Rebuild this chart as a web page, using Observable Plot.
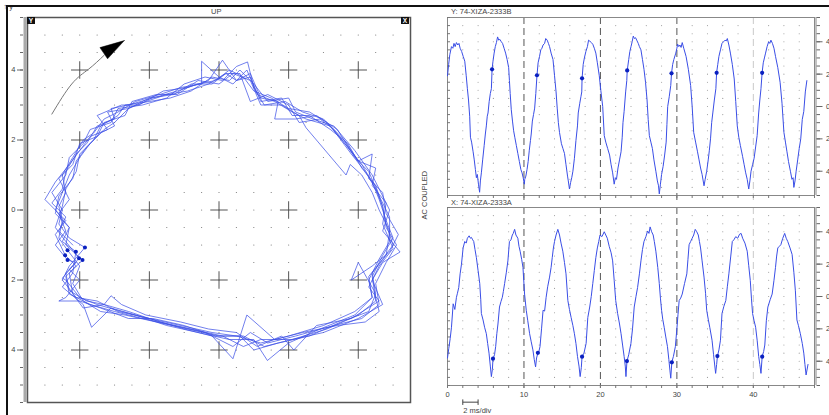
<!DOCTYPE html>
<html><head><meta charset="utf-8">
<script src="https://cdn.jsdelivr.net/npm/d3@7"></script>
<script src="https://cdn.jsdelivr.net/npm/@observablehq/plot@0.6"></script>
<style>
html,body{margin:0;padding:0;background:#fff;}
#root{position:relative;width:829px;height:415px;overflow:hidden;font-family:"Liberation Sans",Arial,sans-serif;color:#444;}
.abs{position:absolute;}
.lbl{position:absolute;font-size:7.5px;line-height:9px;white-space:nowrap;color:#444;}
.box{position:absolute;width:8px;height:7px;background:#111;color:#fff;font-size:6.5px;line-height:7px;text-align:center;font-weight:bold;}
</style></head>
<body><div id="root"></div>
<script>
// ---------------- DATA ----------------
// Orbit (filtered X vs Y), clockwise [x, y]
const orbitPath = [
[-4.2,-1.0],[-4.6,-0.6],[-4.4,-0.2],[-4.8,0.2],[-4.5,0.6],[-4.4,1.1],[-4.1,1.6],[-3.8,1.9],[-3.5,2.4],[-3.0,2.6],[-3.1,2.9],[-2.6,3.0],[-1.9,3.2],[-1.2,3.4],[-0.6,3.6],[-0.1,3.7],[0.3,4.0],[0.7,3.8],[1.0,3.4],[1.5,3.2],[2.0,2.9],[2.6,2.8],[3.1,2.5],[3.7,1.8],[4.1,1.3],[4.4,0.8],[4.6,0.3],[4.8,-0.3],[5.0,-0.8],[4.7,-1.3],[4.4,-1.9],[4.5,-2.6],[4.0,-3.0],[3.1,-3.4],[2.1,-3.7],[1.3,-3.9],[0.7,-3.6],[0.0,-3.6],[-0.9,-3.4],[-1.8,-3.2],[-2.7,-3.0],[-3.4,-2.9],[-3.9,-2.6],[-4.2,-2.1],[-4.0,-1.6],
[-4.35,-1.15],[-4.6,-0.8],[-4.5,-0.3],[-4.6,0.1],[-4.4,0.5],[-4.5,1.0],[-4.2,1.5],[-3.9,2.0],[-3.6,2.2],[-3.3,2.6],[-2.9,2.8],[-2.4,3.1],[-1.7,3.3],[-1.1,3.5],[-0.5,3.6],[-0.5,4.25],[0.0,3.8],[0.4,3.6],[0.8,4.0],[1.1,3.3],[1.6,3.1],[2.1,2.8],[2.5,2.6],[3.2,2.4],[3.8,1.6],[4.2,1.1],[4.5,0.6],[4.7,0.1],[4.8,-0.5],[5.1,-1.0],[4.8,-1.5],[4.5,-2.1],[4.6,-2.7],[4.1,-3.1],[3.3,-3.3],[2.2,-3.6],[1.4,-3.8],[0.9,-3.5],[0.4,-3.9],[-0.4,-3.5],[-1.3,-3.3],[-2.2,-3.1],[-3.0,-2.9],[-3.7,-2.7],[-4.3,-2.4],[-4.4,-1.9],[-4.1,-1.6],
[-4.42,-1.29],[-4.7,-0.7],[-4.4,-0.3],[-5.0,0.3],[-4.7,0.8],[-4.3,1.3],[-4.0,1.7],[-3.7,2.1],[-3.2,2.3],[-3.5,2.7],[-2.8,3.0],[-2.3,3.0],[-1.6,3.4],[-0.9,3.5],[-0.3,3.7],[0.1,4.28],[0.5,3.7],[0.9,3.9],[1.2,3.2],[1.7,3.1],[1.6,2.6],[2.2,2.6],[2.8,2.7],[3.4,2.3],[3.9,1.5],[4.3,1.1],[4.6,0.4],[4.9,-0.2],[4.9,-0.9],[4.6,-1.4],[4.3,-2.0],[4.4,-2.5],[3.9,-3.0],[2.9,-3.4],[2.0,-3.8],[1.39,-4.3],[1.0,-3.7],[0.3,-3.7],[-0.6,-3.5],[-1.5,-3.3],[-2.4,-3.0],[-3.1,-2.8],[-3.66,-3.35],[-3.9,-2.7],[-4.5,-2.2],[-4.2,-1.8],
[-4.11,-1.19],[-4.5,-0.9],[-4.3,-0.5],[-4.7,-0.1],[-4.6,0.4],[-4.2,0.9],[-4.1,1.4],[-3.8,1.8],[-3.4,2.2],[-3.0,2.4],[-3.2,2.8],[-2.6,2.9],[-2.0,3.2],[-1.3,3.3],[-0.8,3.6],[-0.2,3.6],[0.2,3.9],[0.6,3.9],[0.9,3.1],[1.4,3.3],[2.0,3.0],[2.3,2.5],[2.9,2.6],[3.3,2.3],[4.0,1.4],[4.4,1.6],[4.3,0.9],[4.7,0.5],[4.8,-0.1],[5.15,-0.7],[4.9,-1.2],[4.4,-1.6],[3.8,-2.0],[4.0,-1.5],[4.45,-2.3],[4.6,-2.9],[4.2,-3.2],[3.4,-3.3],[2.4,-3.5],[1.6,-3.7],[0.8,-3.0],[0.4,-4.25],[-0.2,-3.6],[-1.0,-3.4],[-2.0,-3.1],[-2.9,-2.9],[-3.5,-2.6],[-4.1,-2.5],[-4.5,-2.0],[-4.3,-1.6],
[-3.85,-1.07],[-4.3,-0.8],[-4.6,-0.4],[-4.5,0.0],[-4.8,0.5],[-4.4,1.0],[-4.3,1.5],[-3.9,1.9],[-3.7,2.3],[-3.1,2.5],[-2.9,2.9],[-2.2,3.0],[-1.5,3.2],[-1.0,3.6],[-0.4,3.8],[0.1,3.7],[0.5,4.1],[0.82,4.23],[1.0,3.5],[1.3,3.0],[1.9,3.1],[2.4,2.8],[3.0,2.6],[3.6,2.0],[4.0,1.4],[4.5,1.2],[4.4,0.7],[4.8,0.2],[4.7,-0.4],[5.0,-1.1],[4.6,-1.6],[4.3,-2.2],[4.6,-2.6],[3.8,-3.1],[2.8,-3.3],[2.15,-4.0],[1.8,-3.6],[1.1,-3.9],[0.5,-3.5],[-0.3,-3.4],[-1.1,-3.2],[-2.1,-3.0],[-2.8,-2.7],[-3.1,-2.45],[-3.3,-2.7],[-3.8,-2.6],[-4.3,-2.3],[-4.4,-1.8],[-4.1,-1.5],
[-4.35,-1.43],[-4.7,-1.0],[-4.4,-0.6],[-4.6,-0.1],[-4.3,0.3],[-4.6,0.9],[-4.2,1.3],[-4.0,1.9],[-3.5,2.1],[-3.3,2.5],[-2.7,2.7],[-2.5,3.1],[-1.8,3.3],[-1.2,3.3],[-0.6,3.7],[0.0,3.6],[0.4,3.9],[0.9,3.7],[1.2,3.0],[1.8,3.0],[2.3,2.7],[2.5,2.35],[3.65,1.0],[3.77,1.3],[4.1,1.0],[4.4,0.5],[4.6,0.0],[4.9,-0.6],[4.8,-1.3],[4.4,-1.8],[4.5,-2.4],[4.3,-2.9],[3.5,-3.2],[2.6,-3.6],[1.7,-3.8],[1.0,-4.0],[0.6,-3.6],[-0.1,-3.6],[-1.0,-3.3],[-1.9,-3.1],[-2.6,-3.1],[-3.4,-2.8],[-4.0,-2.6],[-4.6,-2.6],[-4.4,-2.5],[-4.0,-2.0],[-4.3,-1.7],
[-4.02,-1.38],[-4.4,-0.9],[-4.7,-0.5],[-4.5,0.1],[-4.4,0.6],[-4.1,1.1],[-4.0,1.6],[-3.6,2.0],[-3.4,2.4],[-2.9,2.7],[-2.7,3.0],[-2.0,3.1],[-1.4,3.2],[-0.8,3.4],[-0.2,3.8],[0.3,3.7],[0.6,4.0],[1.0,3.6],[1.4,3.1],[2.0,3.2],[2.2,2.8],[2.7,2.6],[3.3,2.4],[3.9,1.7],[4.4,1.0],[4.6,0.6],[4.9,0.0],[4.7,-0.6],[5.2,-1.2],[4.7,-1.5],[4.4,-2.0],[4.7,-2.7],[4.0,-3.1],[3.0,-3.5],[2.1,-3.7],[1.2,-3.7],[0.7,-3.9],[0.1,-3.6],[-0.8,-3.4],[-1.7,-3.2],[-2.6,-2.9],[-3.3,-2.7],[-3.9,-2.8],[-4.2,-2.4],[-4.3,-1.8],
[-3.92,-1.43],[-4.4,-1.0],[-4.3,-0.5],[-4.7,0.0],[-4.5,0.5],[-4.3,1.0],[-4.0,1.5],[-3.7,1.9],[-3.3,2.3],[-3.0,2.5],[-2.6,2.9],[-2.1,3.1],[-1.5,3.3],[-0.9,3.4],[-0.3,3.6],[0.2,3.9],[0.5,3.7],[0.9,3.8],[1.2,3.1],[1.8,3.2],[2.1,2.7],[2.6,2.7],[3.2,2.3],[3.7,1.9],[4.1,1.2],[4.5,0.7],[4.7,0.1],[4.8,-0.4],[5.0,-1.0],[4.7,-1.4],[4.3,-1.9],[4.4,-2.5],[3.9,-2.9],[3.0,-3.3],[2.0,-3.6],[1.2,-3.8],[0.5,-3.6],[-0.2,-3.5],[-1.1,-3.3],[-2.0,-3.1],[-2.8,-2.9],[-3.5,-2.7],[-4.0,-2.5],[-4.4,-2.0],[-4.5,-1.95],[-4.2,-1.6]
];
// Keyphasor marks on the orbit [x, y]
const orbitKeyphasors = [[-4.35,-1.15],[-4.42,-1.29],[-4.11,-1.19],[-3.85,-1.07],[-4.35,-1.43],[-4.02,-1.38],[-3.92,-1.43]];
// Rotation arrow (annotation, in orbit units)
const arrowCurve = [[-4.8,2.74],[-4.23,3.6],[-3.75,4.02],[-3.3,4.42]];
const arrowHead = [[-2.72,4.84],[-3.42,4.64],[-3.2,4.32],[-2.72,4.84]];

// Y probe timebase [ms, value]
const waveY = [
[0,1.9],[0.15,2.6],[0.3,3.2],[0.52,3.7],[0.7,3.6],[0.85,3.9],[1.0,3.7],[1.17,3.95],[1.35,3.8],[1.5,3.9],[1.65,3.6],[1.85,3.4],[2.05,3.1],[2.26,2.8],[2.45,1.9],[2.6,1.1],[2.75,0.4],[2.9,-0.6],[3.0,-1.9],[3.15,-2.2],[3.35,-2.8],[3.5,-3.3],[3.65,-3.9],[3.78,-4.4],[3.9,-4.2],[4.05,-4.8],[4.2,-5.3],[4.3,-4.6],[4.43,-4.1],[4.6,-3.3],[4.8,-2.4],[4.95,-1.7],[5.08,-1.2],[5.2,-0.6],[5.3,-0.4],[5.45,0.3],[5.6,0.8],[5.74,1.1],[5.83,2.3],[5.95,2.8],[6.1,3.3],[6.25,3.7],[6.4,3.95],[6.55,4.3],[6.7,4.1],[6.85,4.15],[7.04,4.0],[7.2,3.9],[7.4,3.6],[7.6,3.3],[7.8,2.9],[8.0,2.4],[8.1,1.6],[8.2,0.8],[8.34,-0.2],[8.5,-0.9],[8.65,-1.5],[8.8,-1.9],[9.0,-2.4],[9.2,-2.9],[9.4,-3.4],[9.6,-3.9],[9.75,-4.1],[9.9,-4.4],[10.05,-4.8],[10.1,-4.5],[10.25,-4.3],[10.4,-3.9],[10.55,-3.4],[10.7,-2.7],[10.85,-2.1],[10.95,-1.7],[11.1,-0.9],[11.25,-0.5],[11.4,-0.1],[11.55,0.8],[11.7,1.9],[11.85,2.7],[12.04,3.1],[12.2,3.5],[12.35,3.6],[12.5,3.8],[12.7,3.9],[12.85,4.2],[13.04,4.1],[13.2,3.9],[13.35,3.7],[13.55,3.3],[13.8,2.9],[14.0,1.9],[14.2,0.9],[14.35,-0.1],[14.5,-1.0],[14.65,-1.6],[14.9,-2.3],[15.1,-2.6],[15.3,-2.9],[15.5,-3.6],[15.7,-4.3],[15.8,-4.6],[15.95,-5.1],[16.1,-4.7],[16.25,-4.4],[16.4,-4.0],[16.6,-3.2],[16.8,-2.1],[17.0,-1.2],[17.1,-0.4],[17.3,0.2],[17.45,0.6],[17.56,0.9],[17.6,1.74],[17.75,2.6],[17.9,3.0],[18.1,3.4],[18.3,3.7],[18.45,4.1],[18.6,4.05],[18.8,3.95],[19.0,3.85],[19.2,3.6],[19.4,3.3],[19.6,2.7],[19.85,1.9],[20.05,1.0],[20.3,0.0],[20.5,-1.8],[20.7,-2.2],[20.95,-2.6],[21.2,-3.0],[21.4,-3.6],[21.6,-4.1],[21.8,-4.8],[21.95,-4.4],[22.1,-4.5],[22.3,-3.8],[22.5,-3.3],[22.7,-2.8],[22.85,-1.9],[22.95,-1.0],[23.1,-0.3],[23.3,0.9],[23.45,1.6],[23.5,2.2],[23.7,2.9],[23.85,3.4],[24.0,3.7],[24.15,4.0],[24.3,4.35],[24.45,4.2],[24.6,4.25],[24.75,4.1],[24.95,3.9],[25.1,3.7],[25.3,3.5],[25.5,2.9],[25.7,2.3],[25.9,1.5],[26.1,0.4],[26.25,-0.8],[26.4,-1.8],[26.6,-2.2],[26.8,-2.6],[27.0,-3.3],[27.25,-4.0],[27.45,-4.6],[27.6,-4.9],[27.7,-5.4],[27.85,-4.8],[28.0,-4.2],[28.2,-3.7],[28.4,-3.0],[28.6,-2.2],[28.7,-1.1],[28.8,0.0],[29.0,0.6],[29.2,1.3],[29.3,2.05],[29.45,2.6],[29.6,2.9],[29.86,3.3],[30.0,3.6],[30.1,3.85],[30.25,3.7],[30.4,3.8],[30.55,3.65],[30.7,3.95],[30.9,3.6],[31.2,3.1],[31.5,2.3],[31.8,1.3],[32.0,0.0],[32.2,-1.6],[32.45,-2.2],[32.7,-2.8],[32.9,-3.3],[33.1,-3.8],[33.3,-4.2],[33.55,-4.9],[33.7,-4.5],[33.9,-4.0],[34.1,-3.3],[34.25,-2.7],[34.4,-2.0],[34.55,-1.0],[34.7,-0.4],[34.9,0.4],[35.1,1.1],[35.2,2.1],[35.35,2.6],[35.5,3.1],[35.7,3.5],[35.9,3.9],[36.1,4.0],[36.3,4.1],[36.45,4.05],[36.6,4.2],[36.8,3.8],[37.0,3.3],[37.25,2.6],[37.5,1.7],[37.7,0.3],[37.9,-1.2],[38.1,-1.9],[38.3,-2.4],[38.6,-3.1],[38.8,-3.6],[39.0,-4.1],[39.2,-4.5],[39.4,-5.1],[39.55,-4.6],[39.7,-4.0],[39.9,-3.6],[40.1,-3.2],[40.3,-2.5],[40.5,-1.8],[40.7,-0.4],[40.85,0.4],[41.0,1.1],[41.15,2.1],[41.3,2.7],[41.45,3.0],[41.6,3.3],[41.8,3.7],[42.0,4.0],[42.15,3.9],[42.3,4.1],[42.5,3.9],[42.7,3.6],[42.9,3.1],[43.2,2.4],[43.5,1.5],[43.75,0.2],[44.0,-1.6],[44.2,-2.2],[44.4,-2.8],[44.6,-3.4],[44.85,-4.0],[45.05,-4.5],[45.2,-4.4],[45.3,-5.0],[45.45,-4.6],[45.6,-4.0],[45.8,-3.3],[46.0,-2.6],[46.2,-2.0],[46.4,-0.8],[46.6,-0.3],[46.8,0.9],[47.0,1.6]
];
const waveYKeyphasors = [[5.83,2.3],[11.7,1.93],[17.6,1.74],[23.5,2.23],[29.3,2.05],[35.2,2.08],[41.15,2.08]];

// X probe timebase [ms, value]
const waveX = [
[0,-3.8],[0.17,-3.2],[0.35,-2.6],[0.52,-1.9],[0.74,-0.45],[0.96,-0.8],[1.17,-0.05],[1.3,0.2],[1.47,0.55],[1.65,1.4],[1.83,2.0],[2.04,3.0],[2.26,3.4],[2.45,3.3],[2.6,3.6],[2.83,3.75],[3.0,3.6],[3.13,3.65],[3.3,3.5],[3.43,3.4],[3.6,2.9],[3.78,2.4],[4.0,1.6],[4.22,0.8],[4.35,-0.2],[4.43,-1.05],[4.65,-1.45],[4.85,-1.9],[5.08,-2.3],[5.25,-2.9],[5.43,-3.5],[5.6,-4.3],[5.74,-4.95],[5.87,-4.5],[5.95,-3.85],[6.15,-3.6],[6.3,-3.1],[6.45,-2.3],[6.6,-1.7],[6.8,-0.65],[7.0,-0.3],[7.17,-0.05],[7.3,0.3],[7.47,0.8],[7.7,1.5],[7.9,2.2],[8.1,3.4],[8.3,3.5],[8.48,3.8],[8.6,3.9],[8.78,4.15],[8.95,3.8],[9.2,3.6],[9.35,3.1],[9.5,2.8],[9.7,2.3],[9.87,1.8],[10.08,0.15],[10.3,-0.85],[10.5,-1.5],[10.74,-2.3],[10.95,-2.8],[11.17,-3.3],[11.35,-3.9],[11.52,-4.35],[11.65,-3.8],[11.82,-3.5],[11.95,-3.4],[12.1,-3.1],[12.3,-2.0],[12.5,-0.85],[12.7,-0.9],[12.9,-0.05],[13.1,0.6],[13.35,1.2],[13.55,1.8],[13.7,2.4],[13.85,3.0],[14.0,3.4],[14.2,3.8],[14.43,4.15],[14.65,3.8],[14.85,3.3],[15.08,2.8],[15.3,2.1],[15.5,1.4],[15.74,-0.25],[15.95,-0.8],[16.17,-1.3],[16.4,-1.8],[16.6,-2.3],[16.8,-2.9],[17.0,-3.7],[17.2,-4.3],[17.35,-4.95],[17.5,-4.4],[17.6,-3.7],[17.85,-3.5],[18.13,-2.9],[18.35,-1.3],[18.6,-0.65],[18.8,0.0],[19.0,0.8],[19.2,1.6],[19.4,2.4],[19.6,3.0],[19.78,3.4],[19.95,3.8],[20.2,3.7],[20.5,4.0],[20.7,3.8],[20.9,3.6],[21.15,3.1],[21.4,2.7],[21.6,2.2],[21.8,1.0],[22.0,-0.25],[22.25,-1.05],[22.5,-1.7],[22.7,-2.3],[22.9,-3.0],[23.1,-3.7],[23.25,-4.3],[23.34,-4.95],[23.47,-4.0],[23.7,-3.6],[23.99,-2.9],[24.2,-2.0],[24.42,-0.65],[24.65,0.0],[24.86,0.55],[25.1,1.4],[25.3,2.2],[25.5,2.9],[25.7,3.4],[25.95,3.7],[26.17,4.05],[26.35,3.9],[26.5,4.3],[26.7,4.0],[26.9,3.8],[27.05,3.4],[27.25,2.8],[27.5,1.8],[27.7,0.8],[27.85,-0.1],[28.0,-0.85],[28.15,-1.4],[28.34,-1.9],[28.55,-2.5],[28.77,-3.1],[28.95,-3.9],[29.1,-4.6],[29.2,-5.05],[29.34,-4.05],[29.55,-3.7],[29.8,-3.1],[30.0,-2.0],[30.15,-1.1],[30.3,-0.25],[30.5,-0.1],[30.7,0.15],[31.0,0.8],[31.3,1.4],[31.45,2.3],[31.6,3.2],[31.8,3.4],[32.0,3.6],[32.2,3.8],[32.4,4.15],[32.6,4.0],[32.8,3.8],[32.95,3.4],[33.1,3.0],[33.3,2.2],[33.55,1.2],[33.75,0.2],[33.9,-0.85],[34.1,-1.4],[34.3,-1.9],[34.6,-2.7],[34.8,-3.6],[35.07,-4.75],[35.2,-4.2],[35.3,-3.7],[35.5,-3.3],[35.7,-2.7],[35.9,-1.05],[36.15,-0.6],[36.4,-0.25],[36.6,0.6],[36.8,1.4],[37.05,2.5],[37.25,3.4],[37.45,3.5],[37.7,3.7],[37.95,3.6],[38.2,3.85],[38.4,3.9],[38.6,3.6],[38.9,3.3],[39.2,2.8],[39.4,1.9],[39.6,1.0],[39.75,-0.1],[39.9,-1.05],[40.1,-1.5],[40.3,-1.9],[40.5,-2.7],[40.7,-3.7],[40.85,-4.2],[41.0,-4.75],[41.16,-3.7],[41.35,-3.4],[41.5,-3.0],[41.7,-1.5],[41.9,-0.65],[42.2,-0.2],[42.46,0.15],[42.7,1.0],[42.9,1.8],[43.05,2.5],[43.2,3.0],[43.4,3.1],[43.6,3.2],[43.85,3.6],[44.1,3.9],[44.3,3.6],[44.5,3.4],[44.8,3.0],[45.07,2.6],[45.3,1.5],[45.5,0.35],[45.7,-1.45],[45.9,-1.8],[46.15,-2.3],[46.4,-2.9],[46.6,-3.5],[46.75,-4.2],[46.9,-4.85],[47.15,-4.2]
];
const waveXKeyphasors = [[5.95,-3.84],[11.82,-3.48],[17.6,-3.72],[23.47,-3.99],[29.34,-4.07],[35.3,-3.68],[41.16,-3.72]];

// Axes / labels
const orbitMajorTicks = [-4,-2,0,2,4];
const waveMajorTicks = [-4,-2,0,2,4];
const timeLabels = [0,10,20,30,40];
const divisionLines = [10,20,30];
const lightDivisionLines = [40];
const scaleBar = {from: 2, to: 4, label: "2 ms/div"};
const titles = {orbit: "UP", top: "Y: 74-XIZA-2333B", bottom: "X: 74-XIZA-2333A", side: "AC COUPLED"};

// ---------------- DRAW ----------------
const root = document.getElementById("root");
const FONT = "Liberation Sans, Arial, sans-serif";
const BLUE = "#3a4ee6";
const KP = "#0a20c0";
const fmtAbs = d => String(Math.abs(d));
const noText = () => "";

const halfSteps = d3.range(-5.5, 5.5001, 0.5);
const gridSteps = d3.range(-5, 5.0001, 0.5);
const orbitGrid = d3.cross(gridSteps, gridSteps).map(([x, y]) => ({x, y}));
const plusCenters = d3.cross(orbitMajorTicks, orbitMajorTicks).map(([x, y]) => ({x, y}));
const ARM = 0.25;

function place(node, left, top) {
  const d = document.createElement("div");
  d.className = "abs"; d.style.left = left + "px"; d.style.top = top + "px";
  d.appendChild(node); root.appendChild(d);
}

const orbit = Plot.plot({
  width: 415, height: 415,
  marginLeft: 27, marginRight: 5, marginTop: 17, marginBottom: 13,
  x: {domain: [-5.5, 5.5], axis: null},
  y: {domain: [-5.5, 5.5], axis: null},
  style: {fontFamily: FONT, fontSize: "7.5px", color: "#444", background: "transparent", overflow: "visible"},
  marks: [
    Plot.dot(orbitGrid, {x: "x", y: "y", r: 0.6, fill: "#777", stroke: null}),
    Plot.link(plusCenters, {x1: d => d.x - ARM, x2: d => d.x + ARM, y1: "y", y2: "y", stroke: "#555", strokeWidth: 1}),
    Plot.link(plusCenters, {x1: "x", x2: "x", y1: d => d.y - ARM, y2: d => d.y + ARM, stroke: "#555", strokeWidth: 1}),
    Plot.line(orbitPath, {x: d => d[0], y: d => d[1], stroke: BLUE, strokeWidth: 0.8, strokeOpacity: 0.9}),
    Plot.dot(orbitKeyphasors, {x: d => d[0], y: d => d[1], r: 2, fill: KP, stroke: null}),
    Plot.line(arrowCurve, {x: d => d[0], y: d => d[1], curve: "natural", stroke: "#777", strokeWidth: 1}),
    Plot.line(arrowHead, {x: d => d[0], y: d => d[1], fill: "#000", stroke: "#000", strokeWidth: 0.5}),
    Plot.ruleX([-5.5], {dx: -2.5, stroke: "#aaa", strokeWidth: 3}),
    Plot.frame({stroke: "#555", strokeWidth: 1.5}),
    Plot.axisY(halfSteps, {anchor: "left", tickSize: 3, dx: -4, tickFormat: noText, stroke: "#666"}),
    Plot.axisY(orbitMajorTicks, {anchor: "left", tickSize: 6, dx: -4, tickPadding: 2, tickFormat: fmtAbs, stroke: "#666", fill: "#444", label: null})
  ]
});
place(orbit, 0, 0);

const timeGrid = d3.cross(d3.range(2, 48, 2).filter(t => t % 10 !== 0), gridSteps).map(([t, v]) => ({t, v}));

function wavePanel(series, kps, o) {
  return Plot.plot({
    width: 414, height: o.height,
    marginLeft: 32, marginRight: 15, marginTop: o.mt, marginBottom: o.mb,
    x: {domain: [0, 48], axis: null},
    y: {domain: [-5.5, 5.5], axis: null},
    style: {fontFamily: FONT, fontSize: "7.5px", color: "#444", background: "transparent", overflow: "visible"},
    marks: [
      Plot.dot(timeGrid, {x: "t", y: "v", r: 0.55, fill: "#999", stroke: null}),
      Plot.ruleX(divisionLines, {stroke: "#555", strokeWidth: 1, strokeDasharray: "7,4", insetBottom: o.ruleInset}),
      Plot.ruleX(lightDivisionLines, {stroke: "#c9c9c9", strokeWidth: 1, strokeDasharray: "7,4", insetBottom: o.ruleInset}),
      Plot.frame({stroke: "#888", strokeWidth: 1}),
      Plot.axisY(halfSteps, {anchor: "left", tickSize: -3, tickFormat: noText, stroke: "#777", label: null}),
      Plot.ruleX([48], {dx: 1.5, stroke: "#888"}),
      Plot.axisY(halfSteps, {anchor: "right", tickSize: 3.5, dx: 1.5, tickFormat: noText, stroke: "#666", label: null}),
      Plot.axisY(waveMajorTicks, {anchor: "right", tickSize: 6, dx: 1.5, tickPadding: 4, tickFormat: fmtAbs, stroke: "#666", fill: "#444", label: null}),
      Plot.axisX(d3.range(0, 48.01, 2), {anchor: "bottom", tickSize: 3, tickFormat: noText, stroke: "#777", label: null}),
      Plot.line(series, {x: d => d[0], y: d => d[1], stroke: BLUE, strokeWidth: 1}),
      Plot.dot(kps, {x: d => d[0], y: d => d[1], r: 2.1, fill: KP, stroke: null}),
      ...(o.extra || [])
    ]
  });
}

const topPanel = wavePanel(waveY, waveYKeyphasors, {height: 200, mt: 17, mb: 5, ruleInset: -5});
place(topPanel, 415, 0);

const barY = -6.53, capH = 0.17;
const bottomPanel = wavePanel(waveX, waveXKeyphasors, {height: 215, mt: 7, mb: 30, ruleInset: 0, extra: [
  Plot.axisX(timeLabels, {anchor: "bottom", tickSize: 3, tickPadding: 3, fill: "#444", stroke: "#777", label: null}),
  Plot.link([scaleBar], {x1: "from", x2: "to", y1: barY, y2: barY, stroke: "#444"}),
  Plot.link([scaleBar.from, scaleBar.to], {x1: d => d, x2: d => d, y1: barY - capH, y2: barY + capH, stroke: "#444"}),
  Plot.text([scaleBar], {x: d => (d.from + d.to) / 2 + 0.9, y: -7.05, text: "label", fill: "#444", fontSize: 7.5})
]});
place(bottomPanel, 415, 200);

// chrome text
function label(text, left, top, extra) {
  const d = document.createElement("div");
  d.className = "lbl"; d.textContent = text;
  d.style.left = left + "px"; d.style.top = top + "px";
  if (extra) Object.assign(d.style, extra);
  root.appendChild(d); return d;
}
label(titles.orbit, 211, 7);
label(titles.top, 451, 7);
label(titles.bottom, 451, 198);
label(titles.side, 400, 191, {transform: "rotate(-90deg)", transformOrigin: "center center", width: "48px", textAlign: "center"});

function box(t, left, top) {
  const d = document.createElement("div");
  d.className = "box"; d.textContent = t;
  d.style.left = left + "px"; d.style.top = top + "px";
  root.appendChild(d);
}
box("Y", 27, 17);
box("X", 401, 17);

// outer border lines
const bTop = document.createElement("div");
Object.assign(bTop.style, {position: "absolute", left: "6px", top: "5px", width: "823px", height: "2px", background: "#111"});
root.appendChild(bTop);
const bLeft = document.createElement("div");
Object.assign(bLeft.style, {position: "absolute", left: "6px", top: "5px", width: "2px", height: "410px", background: "#111"});
root.appendChild(bLeft);
</script>
</body></html>
